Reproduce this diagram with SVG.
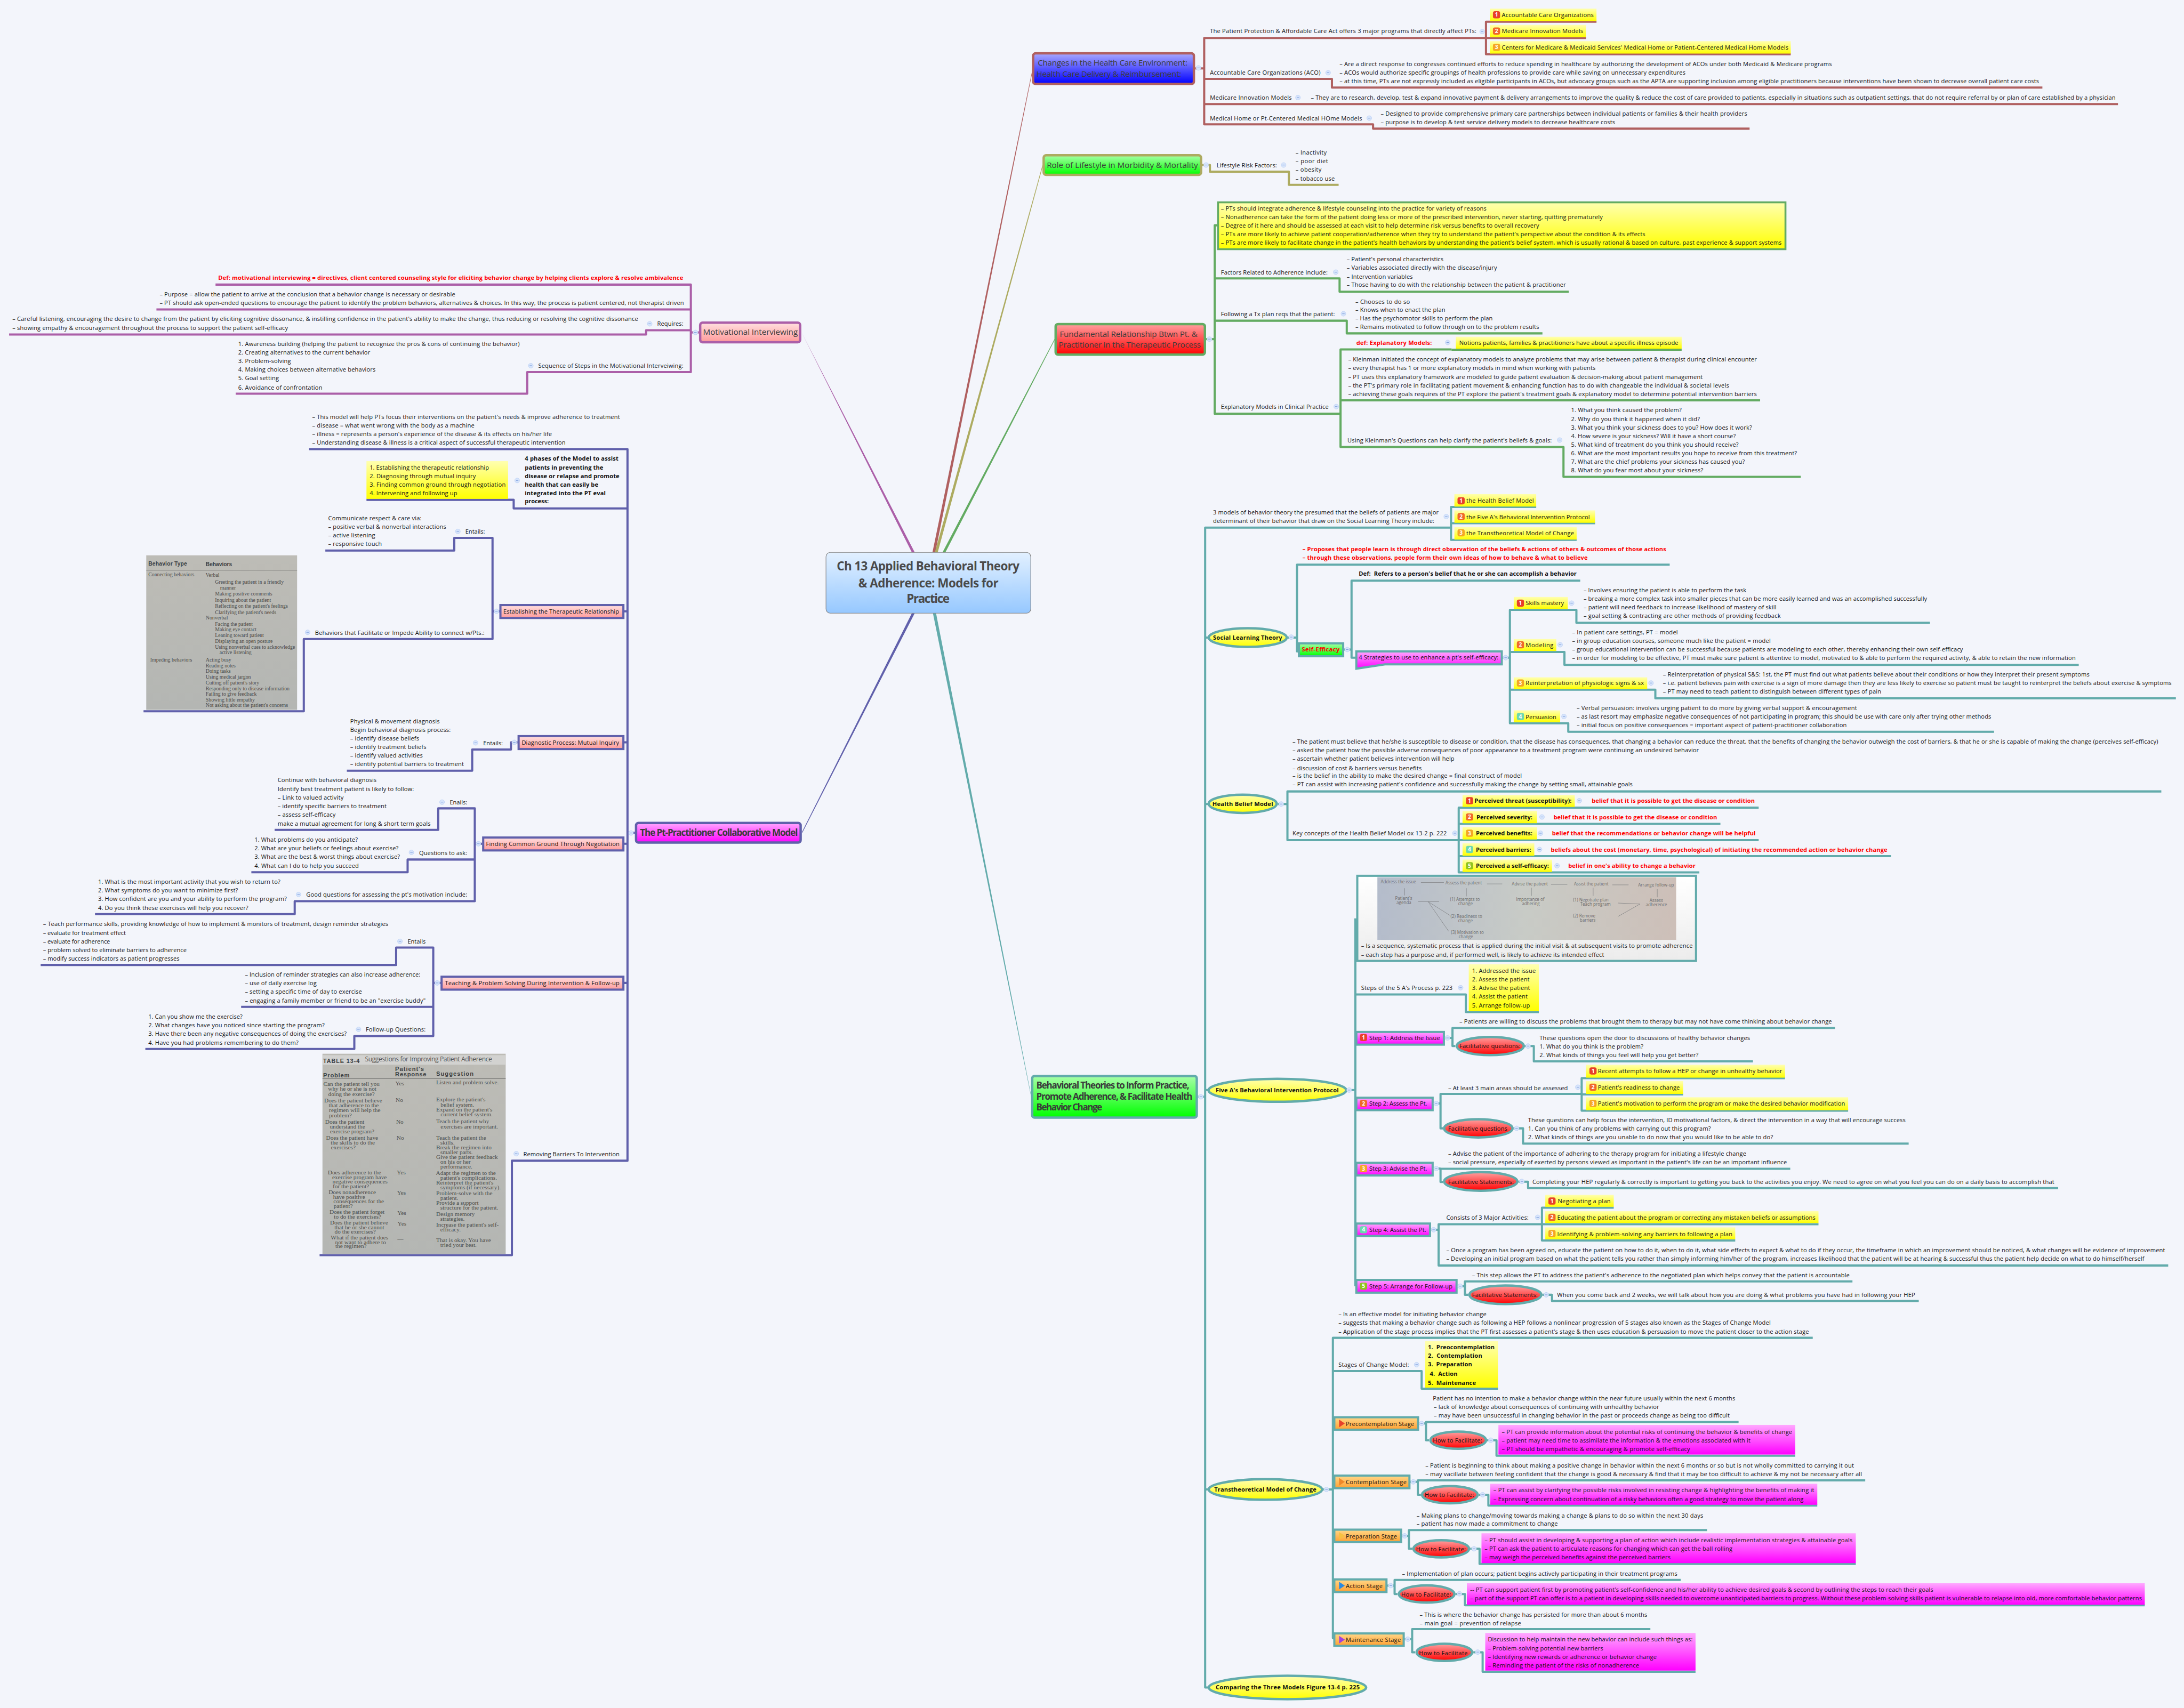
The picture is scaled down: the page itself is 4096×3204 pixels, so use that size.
<svg xmlns="http://www.w3.org/2000/svg" width="4096" height="3204" viewBox="0 0 4096 3204">
<style>
text{font-family:"Open Sans","Noto Sans","Liberation Sans",sans-serif;font-size:12.4px;fill:#111}
.b{font-weight:700}
.r{font-weight:700;fill:#f00}
.d{font-weight:700;fill:#fff;text-anchor:middle;font-size:11.5px}
.h{font-size:17px;fill:#3c3c3c}
.hb{font-size:19px;font-weight:700;fill:#3a3a3a}
.s{font-size:13.5px;fill:#3c2020}
.ser{font-family:"Liberation Serif",serif;font-size:11px;fill:#4a4a48}
.sr3{font-family:"Liberation Serif",serif;font-size:12.6px;fill:#4c4f4d}
.sb{font-family:"Liberation Sans",sans-serif;font-weight:700;fill:#3c3f42}
.f{font-size:9px;fill:#6b6b6b}
.c{fill:none;stroke-width:4.5;stroke-linejoin:round}
.c1{stroke:#b06060}.c2{stroke:#adab60}.c3{stroke:#63ab62}.c4{stroke:#62abab}.c5{stroke:#ab5fa8}.c6{stroke:#6060ab}
.y{fill:url(#gY)}.m{fill:url(#gM)}
.tb{stroke:#62abab;stroke-width:4.5}
.pb{stroke:#6060ab;stroke-width:4.5}
.ey{fill:url(#gY);stroke:#62abab;stroke-width:5}
.er{fill:url(#gR);stroke:#62abab;stroke-width:5}
#t circle{fill:#d6e4fb;stroke:#bcd0f5;stroke-width:1}
#t path{stroke:#7f9fdc;stroke-width:1.2}
</style>
<defs>
<linearGradient id="gY" x1="0" y1="0" x2="0" y2="1"><stop offset="0" stop-color="#ffffb0"/><stop offset="1" stop-color="#ff0"/></linearGradient>
<linearGradient id="gM" x1="0" y1="0" x2="0" y2="1"><stop offset="0" stop-color="#ffa8ff"/><stop offset="1" stop-color="#f0f"/></linearGradient>
<linearGradient id="gO" x1="0" y1="0" x2="0" y2="1"><stop offset="0" stop-color="#ffd88a"/><stop offset="1" stop-color="#ffa030"/></linearGradient>
<linearGradient id="gR" x1="0" y1="0" x2="0" y2="1"><stop offset="0" stop-color="#ffa0a0"/><stop offset="1" stop-color="#f00"/></linearGradient>
<linearGradient id="gG" x1="0" y1="0" x2="0" y2="1"><stop offset="0" stop-color="#a8ffa8"/><stop offset="1" stop-color="#0f0"/></linearGradient>
<linearGradient id="gB" x1="0" y1="0" x2="0" y2="1"><stop offset="0" stop-color="#a8a8ff"/><stop offset="1" stop-color="#00f"/></linearGradient>
<linearGradient id="gS" x1="0" y1="0" x2="0" y2="1"><stop offset="0" stop-color="#ffe0e0"/><stop offset="1" stop-color="#ff9a9a"/></linearGradient>
<linearGradient id="gC" x1="0" y1="0" x2="0" y2="1"><stop offset="0" stop-color="#e2f0ff"/><stop offset="1" stop-color="#96c8ff"/></linearGradient>
<linearGradient id="gW" x1="0" y1="0" x2="0" y2="1"><stop offset="0" stop-color="#fff"/><stop offset="1" stop-color="#ececec"/></linearGradient>
<linearGradient id="gI" x1="0" y1="0" x2="1" y2="0"><stop offset="0" stop-color="#b4bccb"/><stop offset=".5" stop-color="#c8cbc6"/><stop offset="1" stop-color="#cdbfb8"/></linearGradient>
<linearGradient id="gT" x1="0" y1="0" x2="0" y2="1"><stop offset="0" stop-color="#bdbcb6"/><stop offset="1" stop-color="#b4b6b3"/></linearGradient>
<g id="t"><circle r="5"/><path d="M-2.5 0H2.5"/></g>
<rect id="b1" x="-7.5" y="-7.5" width="15" height="15" rx="4" fill="#e8402a"/>
<rect id="b2" x="-7.5" y="-7.5" width="15" height="15" rx="4" fill="#f0682a"/>
<rect id="b3" x="-7.5" y="-7.5" width="15" height="15" rx="4" fill="#f5a623"/>
<rect id="b4" x="-7.5" y="-7.5" width="15" height="15" rx="4" fill="#6bd8b0"/>
<rect id="b5" x="-7.5" y="-7.5" width="15" height="15" rx="4" fill="#8fc31f"/>
</defs>
<rect width="4096" height="3204" fill="#f3f5fb"/>
<g transform="scale(.89726)">
<g id="connectors">
<polygon fill="#b06060" points="1949,1155 1955,1155 2158,150 2157,150"/>
<polygon fill="#adab60" points="1954,1155 1960,1155 2180,346 2179,345"/>
<polygon fill="#63ab62" points="1970,1155 1976,1155 2205,710 2204,709"/>
<polygon fill="#ab5fa8" points="1906,1155 1912,1155 1676,696 1675,694"/>
<polygon fill="#6060ab" points="1906,1282 1912,1282 1677,1741 1676,1740"/>
<polygon fill="#62abab" points="1950,1282 1956.5,1282 2156,2294 2155,2292"/>
<g class="c c1"><path d="M3106 79.5H2517V260H2870V269H3657"/><path d="M2517 165H2784V183H4269"/><path d="M2517 217.5H4427"/><path d="M3337 45.5H3106V113.5H3743"/><path d="M3106 79.5H3315"/><path d="M2498 143H2517"/></g>
<path class="c c2" d="M2513 345H2529V359H2694V386.5H2798"/>
<g class="c c3"><path d="M2544 471H2539V865H2802"/><path d="M2521 709H2539"/><path d="M2539 582H2800V610H3279"/><path d="M2539 670.5H2815V697H3224"/><path d="M3034 730.6H2802V934.6H3268V997H3764"/><path d="M2802 837H3679"/><path d="M3034 731H3515"/></g>
<g class="c c4">
<path d="M3031 1103H2519V3528H2526"/><path d="M2504 2293H2519"/><path d="M2519 1333H2526M2519 1681H2526M2519 2279H2526M2519 3114H2526"/>
<path d="M3211 1060H3033V1128.7H3295.5"/><path d="M3031 1094H3334"/>
<path d="M3490 1180.6H2711V1362H2716"/><path d="M2692 1333H2711"/><path d="M3303 1214H2825V1375H2835"/><path d="M2809 1358H2825"/>
<path d="M4034 1302H3295V1275H3156V1512H3278V1530H4168"/><path d="M3141 1375H3156"/><path d="M3156 1363H3270V1390H4345"/><path d="M3156 1442H3460V1460H4548"/>
<path d="M4517.6 1654.6H2691V1756.4H3049"/><path d="M2671 1681H2691"/><path d="M3676 1688.6H3049V1824H3552"/><path d="M3049 1722.5H3596"/><path d="M3049 1756.4H3676"/><path d="M3049 1790H3952.6"/>
<path d="M2833 1920V2689"/><path d="M2816 2279H2833"/><path d="M2833 2079H3064V2116H3216.5"/>
<path d="M3835.6 2149H3036V2187H3042"/><path d="M3020 2170H3036"/><path d="M3187 2187H3206V2219H3664"/>
<path d="M3306 2287H3011V2359H3016"/><path d="M2996.5 2307H3011"/><path d="M3731 2254H3306V2322H3863"/><path d="M3306 2288H3518"/><path d="M3164 2359H3183.5V2391H3989.5"/>
<path d="M3742 2443.5H3011V2471H3016"/><path d="M2996.5 2443H3011"/><path d="M3174 2470.5H3194V2484H4302"/>
<path d="M4532 2645.7H3007V2559.5H3223"/><path d="M2991 2571H3007"/><path d="M3373 2525H3223V2593.5H3627"/><path d="M3223 2559.5H3801"/>
<path d="M3872 2679H3062V2707H3069"/><path d="M3046.5 2689H3062"/><path d="M3224 2707H3244V2720H4010.6"/>
<path d="M3789 2797H2786V3425H2789"/><path d="M2766 3114H2786"/><path d="M2786 2866.5H2971.5V2903.4H3131"/>
<path d="M3634 2973H2980.7V3011H2987"/><path d="M2966 2976H2981"/><path d="M3108 3011H3128V3043.4H3752.5"/>
<path d="M3898.7 3095H2963.6V3125H2970"/><path d="M2948 3098H2964"/><path d="M3091 3125H3111V3147.6H3798.5"/>
<path d="M3568 3199H2945V3238H2952"/><path d="M2930.6 3211H2945"/><path d="M3073 3238H3092.6V3269.6H3879"/>
<path d="M3513 3303H2915V3332.6H2921"/><path d="M2900 3315H2915"/><path d="M3042.6 3332.6H3062V3356H4483"/>
<path d="M3449.6 3406H2951.7V3454.5H2958"/><path d="M2936 3427H2952"/><path d="M3079.5 3454.5H3099V3495H3544"/>
</g>
<g class="c c5"><path d="M450.5 595H1444V778H1102V823H492.6"/><path d="M327 647H1444"/><path d="M1461 695H1444"/><path d="M1444 690.5H1350.5V699.3H19"/></g>
<g class="c c6"><path d="M646 939H1311.6V2426.7H1070V2624H668"/><path d="M1327 1741H1311.6"/><path d="M1311.6 1063H1073.7V1045H766"/>
<path d="M1304.7 1278H1311.6M1304.7 1552H1311.6M1305 1764H1311.6M1305 2055H1311.6"/><path d="M1044 1278H1029"/><path d="M680 1151H949.5V1124.5H1029.5V1336H635V1487H300"/>
<path d="M1081.7 1552H1068V1567H987V1611.4H725"/><path d="M1007.8 1764H992.4"/><path d="M574 1735H916V1690H992.4V1884H616V1911H198.6"/><path d="M992.4 1797H852V1823.6H525.4"/>
<path d="M920.7 2055H905.6"/><path d="M85 2017.4H828V1981H905.6V2166H740.6V2193H303.8"/><path d="M905.6 2105H504"/></g>
</g>

<g id="central"><rect x="1726.5" y="1155" width="428" height="127" rx="9" fill="url(#gC)" stroke="#808080" stroke-width="1.2"/>
<text class="hb" style="font-size:25px;fill:#4a4a4a" x="1749" y="1193" textLength="382">Ch 13 Applied Behavioral Theory</text>
<text class="hb" style="font-size:25px;fill:#4a4a4a" x="1794" y="1228" textLength="293">&amp; Adherence: Models for</text>
<text class="hb" style="font-size:25px;fill:#4a4a4a" x="1895" y="1260" textLength="90">Practice</text></g>

<g id="changes"><rect x="2159.5" y="111.5" width="336" height="64" rx="5" fill="url(#gB)" stroke="#b06060" stroke-width="5"/>
<text class="h" x="2169" y="137" textLength="313">Changes in the Health Care Environment:</text>
<text class="h" x="2166" y="160" textLength="303">Health Care Delivery &amp; Reimbursement:</text><use href="#t" x="2505" y="142"/></g>
<g id="ppaca"><text x="2529" y="69" textLength="557">The Patient Protection &amp; Affordable Care Act offers 3 major programs that directly affect PTs:</text><use href="#t" x="3098" y="66"/></g>
<g id="y-aco"><rect class="y" x="3114" y="18" width="223" height="26"/><use href="#b1" x="3128" y="31"/><text class="d" x="3128" y="35">1</text><text x="3139" y="35.5" textLength="192">Accountable Care Organizations</text></g>
<g id="y-mim"><rect class="y" x="3114" y="52" width="201" height="26"/><use href="#b2" x="3128" y="65"/><text class="d" x="3128" y="69">2</text><text x="3139" y="69.5" textLength="170">Medicare Innovation Models</text></g>
<g id="y-cms"><rect class="y" x="3114" y="86" width="629" height="26"/><use href="#b3" x="3128" y="99"/><text class="d" x="3128" y="103">3</text><text x="3139" y="103.5" textLength="599">Centers for Medicare &amp; Medicaid Services' Medical Home or Patient-Centered Medical Home Models</text></g>
<g id="aco"><text x="2529" y="156" textLength="231">Accountable Care Organizations (ACO)</text><use href="#t" x="2776" y="152"/></g>
<g id="aco-txt"><text x="2800" y="138" textLength="1029">– Are a direct response to congresses continued efforts to reduce spending in healthcare by authorizing the development of ACOs under both Medicaid &amp; Medicare programs</text>
<text x="2800" y="156" textLength="723">– ACOs would authorize specific groupings of health professions to provide care while saving on unnecessary expenditures</text>
<text x="2800" y="174" textLength="1462">– at this time, PTs are not expressly included as eligible participants in ACOs, but advocacy groups such as the APTA are supporting inclusion among eligible practitioners because interventions have been shown to decrease overall patient care costs</text></g>
<g id="mim"><text x="2529" y="208" textLength="171">Medicare Innovation Models</text><use href="#t" x="2713" y="204"/>
<text x="2740" y="208" textLength="1682">– They are to research, develop, test &amp; expand innovative payment &amp; delivery arrangements to improve the quality &amp; reduce the cost of care provided to patients, especially in situations such as outpatient settings, that do not require referral by or plan of care established by a physician</text></g>
<g id="medhome"><text x="2529" y="252" textLength="318">Medical Home or Pt-Centered Medical HOme Models</text><use href="#t" x="2862" y="247"/>
<text x="2886" y="242" textLength="766">– Designed to provide comprehensive primary care partnerships between individual patients or families &amp; their health providers</text>
<text x="2886" y="260" textLength="490">– purpose is to develop &amp; test service delivery models to decrease healthcare costs</text></g>

<g id="role"><rect x="2181.5" y="324.5" width="329" height="41" rx="5" fill="url(#gG)" stroke="#adab60" stroke-width="5"/>
<text class="h" x="2188" y="351" textLength="316">Role of Lifestyle in Morbidity &amp; Mortality</text><use href="#t" x="2521" y="345"/>
<text x="2543" y="350" textLength="126">Lifestyle Risk Factors:</text><use href="#t" x="2683" y="345"/>
<text x="2708" y="323" textLength="65">– Inactivity</text><text x="2708" y="341" textLength="68">– poor diet</text><text x="2708" y="359" textLength="54">– obesity</text><text x="2708" y="378" textLength="82">– tobacco use</text></g>

<g id="fund"><rect x="2206.5" y="677.5" width="312" height="64" rx="5" fill="url(#gR)" stroke="#63ab62" stroke-width="5"/>
<text class="h" x="2215" y="704" textLength="288">Fundamental Relationship Btwn Pt. &amp;</text>
<text class="h" x="2213" y="727" textLength="297">Practitioner in the Therapeutic Process</text><use href="#t" x="2528" y="709"/></g>
<g id="adh"><rect x="2546" y="423" width="1186" height="98" fill="url(#gY)" stroke="#63ab62" stroke-width="4"/>
<text x="2552" y="440" textLength="555">– PTs should integrate adherence &amp; lifestyle counseling into the practice for variety of reasons</text>
<text x="2552" y="458" textLength="798">– Nonadherence can take the form of the patient doing less or more of the prescribed intervention, never starting, quitting prematurely</text>
<text x="2552" y="476" textLength="665">– Degree of it here and should be assessed at each visit to help determine risk versus benefits to overall recovery</text>
<text x="2552" y="494" textLength="887">– PTs are more likely to achieve patient cooperation/adherence when they try to understand the patient's perspective about the condition &amp; its effects</text>
<text x="2552" y="512" textLength="1172">– PTs are more likely to facilitate change in the patient's health behaviors by understanding the patient's belief system, which is usually rational &amp; based on culture, past experience &amp; support systems</text></g>
<g id="factors"><text x="2552" y="574" textLength="223">Factors Related to Adherence Include:</text><use href="#t" x="2792" y="569"/>
<text x="2815" y="546" textLength="202">– Patient's personal characteristics</text><text x="2815" y="564" textLength="314">– Variables associated directly with the disease/injury</text><text x="2815" y="583" textLength="138">– Intervention variables</text><text x="2815" y="600" textLength="458">– Those having to do with the relationship between the patient &amp; practitioner</text></g>
<g id="following"><text x="2552" y="661" textLength="238">Following a Tx plan reqs that the patient:</text><use href="#t" x="2808" y="656"/>
<text x="2833" y="635" textLength="114">– Chooses to do so</text><text x="2833" y="652" textLength="188">– Knows when to enact the plan</text><text x="2833" y="670" textLength="287">– Has the psychomotor skills to perform the plan</text><text x="2833" y="688" textLength="384">– Remains motivated to follow through on to the problem results</text></g>
<g id="expl"><text x="2552" y="855" textLength="225">Explanatory Models in Clinical Practice</text><use href="#t" x="2793" y="850"/></g>
<g id="expl-def"><text class="r" x="2835" y="721" textLength="158">def: Explanatory Models:</text><use href="#t" x="3026" y="716"/><rect class="y" x="3043" y="704" width="472" height="25"/>
<text x="3050" y="721" textLength="458">Notions patients, families &amp; practitioners have about a specific illness episode</text></g>
<g id="expl-txt"><text x="2818" y="756" textLength="854">– Kleinman initiated the concept of explanatory models to analyze problems that may arise between patient &amp; therapist during clinical encounter</text>
<text x="2818" y="774" textLength="517">– every therapist has 1 or more explanatory models in mind when working with patients</text>
<text x="2818" y="792" textLength="741">– PT uses this explanatory framework are modeled to guide patient evaluation &amp; decision-making about patient management</text>
<text x="2818" y="810" textLength="796">– the PT's primary role in facilitating patient movement &amp; enhancing function has to do with changeable the individual &amp; societal levels</text>
<text x="2818" y="828" textLength="854">– achieving these goals requires of the PT explore the patient's treatment goals &amp; explanatory model to determine potential intervention barriers</text></g>
<g id="klein"><text x="2816.5" y="925" textLength="427">Using Kleinman's Questions can help clarify the patient's beliefs &amp; goals:</text><use href="#t" x="3260" y="920"/>
<text x="3284" y="862" textLength="231">1. What you think caused the problem?</text>
<text x="3284" y="880" textLength="269">2. Why do you think it happened when it did?</text>
<text x="3284" y="898" textLength="378">3. What you think your sickness does to you? How does it work?</text>
<text x="3284" y="916" textLength="344">4. How severe is your sickness? Will it have a short course?</text>
<text x="3284" y="934" textLength="350">5. What kind of treatment do you think you should receive?</text>
<text x="3284" y="952" textLength="472">6. What are the most important results you hope to receive from this treatment?</text>
<text x="3284" y="970" textLength="363">7. What are the chief problems your sickness has caused you?</text>
<text x="3284" y="988" textLength="276">8. What do you fear most about your sickness?</text></g>

<g id="behav"><rect x="2157.5" y="2249.5" width="344" height="87" rx="5" fill="url(#gG)" stroke="#62abab" stroke-width="5"/>
<text class="hb" x="2166" y="2276" textLength="320">Behavioral Theories to Inform Practice,</text>
<text class="hb" x="2166" y="2299" textLength="326.5">Promote Adherence, &amp; Facilitate Health</text>
<text class="hb" x="2166" y="2321" textLength="138">Behavior Change</text><use href="#t" x="2510" y="2293"/></g>
<g id="three"><text x="2535.5" y="1075" textLength="471.5">3 models of behavior theory the presumed that the beliefs of patients are major</text>
<text x="2535.5" y="1093" textLength="462.5">determinant of their behavior that draw on the Social Learning Theory include:</text><use href="#t" x="3023" y="1080"/>
<rect class="y" x="3040" y="1033" width="171" height="26"/><use href="#b1" x="3054" y="1047"/><text class="d" x="3054" y="1051">1</text><text x="3065" y="1051.5" textLength="141">the Health Belief Model</text>
<rect class="y" x="3040" y="1067" width="294" height="26"/><use href="#b2" x="3054" y="1080"/><text class="d" x="3054" y="1084">2</text><text x="3065" y="1085" textLength="258">the Five A's Behavioral Intervention Protocol</text>
<rect class="y" x="3040" y="1102" width="255.5" height="26"/><use href="#b3" x="3054" y="1114"/><text class="d" x="3054" y="1118">3</text><text x="3065" y="1119" textLength="225">the Transtheoretical Model of Change</text></g>
<g id="slt"><ellipse class="ey" cx="2608" cy="1333" rx="81.5" ry="19.5"/><text class="b" x="2535.5" y="1337" textLength="144.5">Social Learning Theory</text><use href="#t" x="2699" y="1332"/></g>
<g id="slt-def"><text class="r" x="2722.6" y="1152" textLength="760">– Proposes that people learn is through direct observation of the beliefs &amp; actions of others &amp; outcomes of those actions</text>
<text class="r" x="2722.6" y="1170" textLength="596">– through these observations, people form their own ideas of how to behave &amp; what to believe</text></g>
<g id="selfeff"><rect x="2715" y="1345" width="92.5" height="27" fill="url(#gG)" stroke="#62abab" stroke-width="4.5"/><text class="r" x="2721" y="1362" textLength="79">Self-Efficacy</text><use href="#t" x="2816" y="1358"/></g>
<g id="se-def"><text class="b" x="2840" y="1204" textLength="455.5" xml:space="preserve">Def:  Refers to a person's belief that he or she can accomplish a behavior</text></g>
<g id="strategies"><path d="M2835 1362H3139V1389H2895L2835 1398Z" fill="url(#gM)" stroke="#62abab" stroke-width="4.5"/><text x="2840" y="1379" textLength="292">4 Strategies to use to enhance a pt's self-efficacy:</text><use href="#t" x="3147" y="1375"/></g>
<g id="skills"><rect class="y" x="3164" y="1248" width="113" height="25"/><use href="#b1" x="3178" y="1261"/><text class="d" x="3178" y="1265">1</text><text x="3189" y="1265.5" textLength="80">Skills mastery</text><use href="#t" x="3285" y="1261"/>
<text x="3310" y="1238" textLength="340">– Involves ensuring the patient is able to perform the task</text>
<text x="3310" y="1256" textLength="718">– breaking a more complex task into smaller pieces that can be more easily learned and was an accomplished successfully</text>
<text x="3310" y="1274" textLength="403">– patient will need feedback to increase likelihood of mastery of skill</text>
<text x="3310" y="1292" textLength="412">– goal setting &amp; contracting are other methods of providing feedback</text></g>
<g id="modeling"><rect class="y" x="3164" y="1336" width="89" height="25"/><use href="#b2" x="3178" y="1348"/><text class="d" x="3178" y="1352">2</text><text x="3189" y="1353" textLength="58">Modeling</text><use href="#t" x="3261" y="1348"/>
<text x="3286" y="1326" textLength="221">– In patient care settings, PT = model</text>
<text x="3286" y="1344" textLength="415">– in group education courses, someone much like the patient = model</text>
<text x="3286" y="1362" textLength="817">– group educational intervention can be successful because patients are modeling to each other, thereby enhancing their own self-efficacy</text>
<text x="3286" y="1380" textLength="1052.5">– in order for modeling to be effective, PT must make sure patient is attentive to model, motivated to &amp; able to perform the required activity, &amp; able to retain the new information</text></g>
<g id="reinterp"><rect class="y" x="3164" y="1416" width="279" height="25"/><use href="#b3" x="3178" y="1428"/><text class="d" x="3178" y="1432">3</text><text x="3189" y="1432.5" textLength="247">Reinterpretation of physiologic signs &amp; sx</text><use href="#t" x="3451" y="1428"/>
<text x="3476" y="1414" textLength="891.5">– Reinterpretation of physical S&amp;S:  1st, the PT must find out what patients believe about their conditions or how they interpret their present symptoms</text>
<text x="3476" y="1432" textLength="1063">– i.e. patient believes pain with exercise is a sign of more damage then they are less likely to exercise so patient must be taught to reinterpret the beliefs about exercise &amp; symptoms</text>
<text x="3476" y="1450" textLength="456">– PT may need to teach patient to distinguish between different types of pain</text></g>
<g id="persuasion"><rect class="y" x="3164" y="1485" width="97" height="25"/><use href="#b4" x="3178" y="1498"/><text class="d" x="3178" y="1502">4</text><text x="3189" y="1503" textLength="64">Persuasion</text><use href="#t" x="3269" y="1498"/>
<text x="3295.5" y="1484" textLength="586">– Verbal persuasion: involves urging patient to do more by giving verbal support &amp; encouragement</text>
<text x="3295.5" y="1502" textLength="866.5">– as last resort may emphasize negative consequences of not participating in program; this should be use with care only after trying other methods</text>
<text x="3295.5" y="1520" textLength="564.5">– initial focus on positive consequences = important aspect of patient-practitioner collaboration</text></g>

<g id="hbm"><ellipse class="ey" cx="2597.5" cy="1680.5" rx="71" ry="19"/><text class="b" x="2534" y="1685" textLength="127">Health Belief Model</text><use href="#t" x="2678" y="1681"/></g>
<g id="hbm-txt"><text x="2701.5" y="1554.5" textLength="1809.5">– The patient must believe that he/she is susceptible to disease or condition, that the disease has consequences, that changing a behavior can reduce the threat, that the benefits of changing the behavior outweigh the cost of barriers, &amp; that he or she is capable of making the change (perceives self-efficacy)</text>
<text x="2701.5" y="1572.5" textLength="849.5">– asked the patient how the possible adverse consequences of poor appearance to a treatment program were continuing an undesired behavior</text>
<text x="2701.5" y="1590" textLength="338.5">– ascertain whether patient believes intervention will help</text>
<text x="2701.5" y="1610" textLength="270">– discussion of cost &amp; barriers versus benefits</text>
<text x="2701.5" y="1626" textLength="479.5">– is the belief in the ability to make the desired change = final construct of model</text>
<text x="2701.5" y="1644" textLength="711">– PT can assist with increasing patient's confidence and successfully making the change by setting small, attainable goals</text></g>
<g id="key"><text x="2701.5" y="1747" textLength="322.5">Key concepts of the Health Belief Model ox 13-2 p. 222</text><use href="#t" x="3041" y="1742"/></g>
<g id="pc1"><rect class="y" x="3057" y="1662" width="234.5" height="25"/><use href="#b1" x="3071.6" y="1674"/><text class="d" x="3071.6" y="1678">1</text><text class="b" x="3082" y="1678.5" textLength="203">Perceived threat (susceptibility):</text><use href="#t" x="3301" y="1674"/><text class="r" x="3327" y="1678.5" textLength="341">belief that it is possible to get the disease or condition</text></g>
<g id="pc2"><rect class="y" x="3057" y="1695" width="155.5" height="26"/><use href="#b2" x="3071.6" y="1708"/><text class="d" x="3071.6" y="1712">2</text><text class="b" x="3086" y="1712.5" textLength="117">Perceived severity:</text><use href="#t" x="3223" y="1708"/><text class="r" x="3247" y="1712.5" textLength="342">belief that it is possible to get the disease or condition</text></g>
<g id="pc3"><rect class="y" x="3057" y="1729" width="155.5" height="26"/><use href="#b3" x="3071.6" y="1742"/><text class="d" x="3071.6" y="1746">3</text><text class="b" x="3085" y="1747" textLength="118">Perceived benefits:</text><use href="#t" x="3220" y="1742"/><text class="r" x="3244" y="1746.5" textLength="425.5">belief that the recommendations or behavior change will be helpful</text></g>
<g id="pc4"><rect class="y" x="3057" y="1763" width="150" height="26"/><use href="#b4" x="3071.6" y="1776"/><text class="d" x="3071.6" y="1780">4</text><text class="b" x="3085" y="1781" textLength="115.6">Perceived barriers:</text><use href="#t" x="3218" y="1776"/><text class="r" x="3241.5" y="1780.5" textLength="703.5">beliefs about the cost (monetary, time, psychological) of initiating the recommended action or behavior change</text></g>
<g id="pc5"><rect class="y" x="3057" y="1797" width="187" height="26"/><use href="#b5" x="3071.6" y="1810"/><text class="d" x="3071.6" y="1814">5</text><text class="b" x="3085" y="1814.5" textLength="152.5">Perceived a self-efficacy:</text><use href="#t" x="3254.6" y="1810"/><text class="r" x="3278" y="1814.5" textLength="266">belief in one's ability to change a behavior</text></g>

<g id="fivea"><ellipse class="ey" cx="2670" cy="2279.5" rx="144" ry="24"/><text class="b" x="2541" y="2284" textLength="257">Five A's Behavioral Intervention Protocol</text><use href="#t" x="2820" y="2279"/></g>
<g id="fivea-img"><rect x="2837" y="1831" width="708" height="178" fill="url(#gW)" stroke="#62abab" stroke-width="4.5"/>
<rect x="2879" y="1834" width="624.5" height="131" fill="url(#gI)"/>
<g fill="none" stroke="#77797b" stroke-width=".8"><path d="M2970 1845H3018M3108 1848H3140M3242 1849H3276M3370 1850H3404M2936 1857V1872M3065 1857V1874M3201 1856V1873M3330 1856V1873M3464 1859V1876M2964 1885H3008M2985 1885L3031 1914M2985 1885L3028 1947M3428 1890L3382 1888M3428 1890L3382 1916"/></g>
<text class="f" x="2886" y="1847">Address the issue</text><text class="f" x="3021.5" y="1849">Assess the patient</text><text class="f" x="3160" y="1851">Advise the patient</text><text class="f" x="3290" y="1851">Assist the patient</text><text class="f" x="3424" y="1853">Arrange follow-up</text>
<text class="f" x="2916" y="1881">Patient's</text><text class="f" x="2919" y="1890">agenda</text><text class="f" x="3031" y="1883">(1) Attempts to</text><text class="f" x="3048" y="1892">change</text><text class="f" x="3169" y="1884">Importance of</text><text class="f" x="3181" y="1893">adhering</text><text class="f" x="3288" y="1885">(1) Negotiate plan</text><text class="f" x="3303" y="1894">Teach program</text><text class="f" x="3448" y="1886">Assess</text><text class="f" x="3440" y="1895">adherence</text>
<text class="f" x="3032" y="1919">(2) Readiness to</text><text class="f" x="3048" y="1928">change</text><text class="f" x="3288" y="1918">(2) Remove</text><text class="f" x="3302" y="1927">barriers</text><text class="f" x="3033" y="1953">(3) Motivation to</text><text class="f" x="3049" y="1962">change</text>
<text x="2845" y="1982" textLength="693">– Is a sequence, systematic process that is applied during the initial visit &amp; at subsequent visits to promote adherence</text>
<text x="2845" y="2000" textLength="508">– each step has a purpose and, if performed well, is likely to achieve its intended effect</text></g>
<g id="steps"><text x="2845" y="2070" textLength="191">Steps of the 5 A's Process p. 223</text><use href="#t" x="3053" y="2065"/><rect class="y" x="3070" y="2016" width="146.5" height="98"/>
<text x="3077" y="2034" textLength="133">1. Addressed the issue</text><text x="3077" y="2052" textLength="120">2. Assess the patient</text><text x="3077" y="2070" textLength="121">3. Advise the patient</text><text x="3077" y="2088" textLength="116">4. Assist the patient</text><text x="3077" y="2106" textLength="121">5. Arrange follow-up</text></g>
<g id="step1"><rect class="m tb" x="2835" y="2157.5" width="183" height="26.5"/><use href="#b1" x="2850" y="2169"/><text class="d" x="2850" y="2173">1</text><text x="2862" y="2174.5" textLength="148">Step 1: Address the Issue</text><use href="#t" x="3025.5" y="2170"/>
<text x="3050.5" y="2140" textLength="778.5">– Patients are willing to discuss the problems that brought them to therapy but may not have come thinking about behavior change</text></g>
<g id="fq1"><ellipse class="er" cx="3115" cy="2187" rx="70" ry="19"/><text x="3050.5" y="2191.5" textLength="127.5">Facilitative questions:</text><use href="#t" x="3194" y="2187"/>
<text x="3218" y="2174" textLength="440">These questions open the door to discussions of healthy behavior changes</text><text x="3218" y="2192" textLength="217">1. What do you think is the problem?</text><text x="3218" y="2210" textLength="332">2. What kinds of things you feel will help you get better?</text></g>
<g id="step2"><rect class="m tb" x="2835" y="2295" width="159.5" height="26"/><use href="#b2" x="2850" y="2307"/><text class="d" x="2850" y="2311">2</text><text x="2862" y="2312" textLength="121">Step 2: Assess the Pt.</text><use href="#t" x="3002" y="2307"/>
<text x="3027" y="2279" textLength="250">– At least 3 main areas should be assessed</text><use href="#t" x="3298" y="2273"/></g>
<g id="s2y1"><rect class="y" x="3315" y="2226" width="416" height="27"/><use href="#b1" x="3329.7" y="2239"/><text class="d" x="3329.7" y="2243">1</text><text x="3340" y="2244" textLength="385">Recent attempts to follow a HEP or change in unhealthy behavior</text></g>
<g id="s2y2"><rect class="y" x="3315" y="2260" width="203" height="27"/><use href="#b2" x="3329.7" y="2273"/><text class="d" x="3329.7" y="2277">2</text><text x="3340" y="2278" textLength="171">Patient's readiness to change</text></g>
<g id="s2y3"><rect class="y" x="3315" y="2294" width="548" height="27"/><use href="#b3" x="3329.7" y="2307"/><text class="d" x="3329.7" y="2311">3</text><text x="3340" y="2312" textLength="516.5">Patient's motivation to perform the program or make the desired behavior modification</text></g>
<g id="fq2"><ellipse class="er" cx="3090" cy="2359" rx="71.5" ry="19"/><text x="3027" y="2363.5" textLength="123.6">Facilitative questions</text><use href="#t" x="3170" y="2359"/>
<text x="3194" y="2346" textLength="789">These questions can help focus the intervention, ID motivational factors, &amp; direct the intervention in a way that will encourage success</text><text x="3194" y="2364" textLength="382">1. Can you think of any problems with carrying out this program?</text><text x="3194" y="2382" textLength="512">2. What kinds of things are you unable to do now that you would like to be able to do?</text></g>
<g id="step3"><rect class="m tb" x="2835" y="2431" width="159.5" height="26.5"/><use href="#b3" x="2850" y="2443"/><text class="d" x="2850" y="2447">3</text><text x="2862" y="2448" textLength="121">Step 3: Advise the Pt.</text><use href="#t" x="3002" y="2443"/>
<text x="3027" y="2416" textLength="623">– Advise the patient of the importance of adhering to the therapy program for initiating a lifestyle change</text><text x="3027" y="2434" textLength="708">– social pressure, especially of exerted by persons viewed as important in the patient's life can be an important influence</text></g>
<g id="fs3"><ellipse class="er" cx="3095" cy="2470" rx="76.5" ry="19.5"/><text x="3027" y="2475" textLength="137">Facilitative Statements:</text><use href="#t" x="3181" y="2470"/>
<text x="3203" y="2475" textLength="1091">Completing your HEP regularly &amp; correctly is important to getting you back to the activities you enjoy. We need to agree on what you feel you can do on a daily basis to accomplish that</text></g>
<g id="step4"><rect class="m tb" x="2835" y="2558" width="154" height="26"/><use href="#b4" x="2850" y="2571"/><text class="d" x="2850" y="2575">4</text><text x="2862" y="2576" textLength="119">Step 4: Assist the Pt.</text><use href="#t" x="2996.5" y="2571"/>
<text x="3023" y="2550" textLength="172">Consists of 3 Major Activities:</text><use href="#t" x="3214" y="2545"/>
<text x="3023" y="2618" textLength="1502.5">– Once a program has been agreed on, educate the patient on how to do it, when to do it, what side effects to expect &amp; what to do if they occur, the timeframe in which an improvement should be noticed, &amp; what changes will be evidence of improvement</text>
<text x="3023" y="2636" textLength="1459">– Developing an initial program based on what the patient tells you rather than simply informing him/her of the program, increases likelihood that the patient will be at hearing &amp; successful thus the patient help decide on what to do himself/herself</text></g>
<g id="s4y1"><rect class="y" x="3230" y="2498" width="143" height="25"/><use href="#b1" x="3244" y="2511"/><text class="d" x="3244" y="2515">1</text><text x="3256" y="2516" textLength="110.6">Negotiating a plan</text></g>
<g id="s4y2"><rect class="y" x="3230" y="2532" width="571" height="25"/><use href="#b2" x="3244" y="2545"/><text class="d" x="3244" y="2549">2</text><text x="3255" y="2550" textLength="539.6">Educating the patient about the program or correcting any mistaken beliefs or assumptions</text></g>
<g id="s4y3"><rect class="y" x="3230" y="2566" width="397" height="25"/><use href="#b3" x="3244" y="2579"/><text class="d" x="3244" y="2583">3</text><text x="3255" y="2584" textLength="366">Identifying &amp; problem-solving any barriers to following a plan</text></g>
<g id="step5"><rect class="m tb" x="2835" y="2676" width="209.5" height="26.5"/><use href="#b5" x="2850" y="2689"/><text class="d" x="2850" y="2693">5</text><text x="2862" y="2694" textLength="174">Step 5: Arrange for Follow-up</text><use href="#t" x="3052" y="2689"/>
<text x="3077" y="2670" textLength="789">– This step allows the PT to address the patient's adherence to the negotiated plan which helps convey that the patient is accountable</text></g>
<g id="fs5"><ellipse class="er" cx="3146.5" cy="2707" rx="75" ry="19.5"/><text x="3077" y="2712" textLength="137">Facilitative Statements:</text><use href="#t" x="3232" y="2707"/>
<text x="3254.6" y="2712" textLength="748.4">When you come back and 2 weeks, we will talk about how you are doing &amp; what problems you have had in following your HEP</text></g>

<g id="ttm"><ellipse class="ey" cx="2645" cy="3114" rx="118.5" ry="21.5"/><text class="b" x="2538" y="3118.5" textLength="213.5">Transtheoretical Model of Change</text><use href="#t" x="2772.6" y="3114"/></g>
<g id="ttm-txt"><text x="2797.6" y="2752" textLength="309.4">– Is an effective model for initiating behavior change</text>
<text x="2797.6" y="2770" textLength="903.4">– suggests that making a behavior change such as following a HEP follows a nonlinear progression of 5 stages also known as the Stages of Change Model</text>
<text x="2797.6" y="2788" textLength="983.4">– Application of the stage process implies that the PT first assesses a patient's stage &amp; then uses education &amp; persuasion to move the patient closer to the action stage</text></g>
<g id="stagesm"><text x="2797.6" y="2858" textLength="147.4">Stages of Change Model:</text><use href="#t" x="2961" y="2853"/><rect class="y" x="2979" y="2804" width="152" height="97"/>
<text class="b" x="2984.7" y="2821" textLength="139.3" xml:space="preserve">1.  Preocontemplation</text><text class="b" x="2984.7" y="2839" textLength="113.3" xml:space="preserve">2.  Contemplation</text><text class="b" x="2984.7" y="2857" textLength="92.3" xml:space="preserve">3.  Preparation</text><text class="b" x="2988.6" y="2877" textLength="58" xml:space="preserve">4.  Action</text><text class="b" x="2984.7" y="2895" textLength="100.3" xml:space="preserve">5.  Maintenance</text></g>
<g id="pre"><rect x="2789" y="2963" width="175" height="26" fill="url(#gO)" class="tb"/><polygon fill="#e8402a" points="2799,2968 2811,2976 2799,2984"/><text x="2813" y="2981" textLength="143">Precontemplation Stage</text><use href="#t" x="2971.5" y="2976"/>
<text x="2995" y="2928" textLength="632">Patient has no intention to make a behavior change within the near future usually within the next 6 months</text><text x="2997" y="2946" textLength="471">– lack of knowledge about consequences of continuing with unhealthy behavior</text><text x="2997" y="2964" textLength="618.5">– may have been unsuccessful in changing behavior in the past or proceeds change as being too difficult</text></g>
<g id="pre-f"><ellipse class="er" cx="3048" cy="3011" rx="58" ry="18"/><text x="2995" y="3016" textLength="103">How to Facilitate:</text><use href="#t" x="3116" y="3011"/><rect class="m" x="3132" y="2979" width="620.5" height="62"/>
<text x="3139" y="2998" textLength="607">– PT can provide information about the potential risks of continuing the behavior &amp; benefits of change</text><text x="3139" y="3016" textLength="520">– patient may need time to assimilate the information &amp; the emotions associated with it</text><text x="3139" y="3034" textLength="393.5">– PT should be empathetic &amp; encouraging &amp; promote self-efficacy</text></g>
<g id="con"><rect x="2789" y="3085" width="157" height="26.4" fill="url(#gO)" class="tb"/><polygon fill="#f0882a" points="2799,3090 2811,3098 2799,3106"/><text x="2813" y="3103" textLength="127">Contemplation Stage</text><use href="#t" x="2954" y="3098"/>
<text x="2979.4" y="3068" textLength="895.6">– Patient is beginning to think about making a positive change in behavior within the next 6 months or so but is not wholly committed to carrying it out</text><text x="2979.4" y="3086" textLength="912.6">– may vacillate between feeling confident that the change is good &amp; necessary &amp; find that it may be too difficult to achieve &amp; my not be necessary after all</text></g>
<g id="con-f"><ellipse class="er" cx="3030.5" cy="3125" rx="58" ry="18"/><text x="2978" y="3130" textLength="103">How to Facilitate:</text><use href="#t" x="3099" y="3125"/><rect class="m" x="3115" y="3102" width="683.5" height="44"/>
<text x="3121.6" y="3120" textLength="670.4">– PT can assist by clarifying the possible risks involved in resisting change &amp; highlighting the benefits of making it</text><text x="3121.6" y="3138" textLength="648">– Expressing concern about continuation of a risky behaviors often a good strategy to move the patient along</text></g>
<g id="prep"><rect x="2789" y="3198" width="139.6" height="26" fill="url(#gO)" class="tb"/><polygon fill="#f8c040" points="2799,3203 2811,3211 2799,3219"/><text x="2813" y="3216" textLength="107">Preparation Stage</text><use href="#t" x="2936" y="3211"/>
<text x="2961" y="3172.5" textLength="599">– Making plans to change/moving towards making a change &amp; plans to do so within the next 30 days</text><text x="2961" y="3190" textLength="295">– patient has now made a commitment to change</text></g>
<g id="prep-f"><ellipse class="er" cx="3012.5" cy="3238" rx="58" ry="18"/><text x="2960" y="3243" textLength="103.7">How to Facilitate:</text><use href="#t" x="3081" y="3238"/><rect class="m" x="3096.6" y="3205.6" width="782.4" height="62.4"/>
<text x="3103" y="3224" textLength="769">– PT should assist in developing &amp; supporting a plan of action which include realistic implementation strategies &amp; attainable goals</text><text x="3103" y="3242" textLength="518">– PT can ask the patient to articulate reasons for changing which can get the ball rolling</text><text x="3103" y="3260" textLength="388.7">– may weigh the perceived benefits against the perceived barriers</text></g>
<g id="act"><rect x="2789" y="3302" width="109" height="26.4" fill="url(#gO)" class="tb"/><polygon fill="#2a8ae0" points="2799,3307 2811,3315 2799,3323"/><text x="2813" y="3320" textLength="77">Action Stage</text><use href="#t" x="2907" y="3315"/>
<text x="2930.6" y="3294" textLength="575.4">– Implementation of plan occurs; patient begins actively participating in their treatment programs</text></g>
<g id="act-f"><ellipse class="er" cx="2982" cy="3332.6" rx="58" ry="18"/><text x="2929" y="3338" textLength="104">How to Facilitate:</text><use href="#t" x="3050.5" y="3332"/><rect class="m" x="3066" y="3310" width="1417" height="45"/>
<text x="3073" y="3328" textLength="968">-- PT can support patient first by promoting patient's self-confidence and his/her ability to achieve desired goals &amp; second by outlining the steps to reach their goals</text><text x="3073" y="3346" textLength="1404">– part of the support PT can offer is to a patient in developing skills needed to overcome unanticipated barriers to progress. Without these problem-solving skills patient is vulnerable to relapse into old, more comfortable behavior patterns</text></g>
<g id="main"><rect x="2789" y="3415" width="145" height="26" fill="url(#gO)" class="tb"/><polygon fill="#a040e0" points="2799,3420 2811,3428 2799,3436"/><text x="2813" y="3433" textLength="115">Maintenance Stage</text><use href="#t" x="2942.5" y="3427"/>
<text x="2967.5" y="3380" textLength="475.5">– This is where the behavior change has persisted for more than about 6 months</text><text x="2967.5" y="3398" textLength="212">– main goal = prevention of relapse</text></g>
<g id="main-f"><ellipse class="er" cx="3019" cy="3454.5" rx="58" ry="18"/><text x="2966" y="3460" textLength="101.6">How to Facilitate</text><use href="#t" x="3088.7" y="3454"/><rect class="m" x="3104.5" y="3414" width="439.5" height="78.6"/>
<text x="3110" y="3432" textLength="427.8">Discussion to help maintain the new behavior can include such things as:</text><text x="3110" y="3450" textLength="241">– Problem-solving potential new barriers</text><text x="3110" y="3468" textLength="352.7">– Identifying new rewards or adherence or behavior change</text><text x="3110" y="3486" textLength="316">– Reminding the patient of the risks of nonadherence</text></g>
<g id="compare"><ellipse class="ey" cx="2691" cy="3528" rx="164.5" ry="24.5"/><text class="b" x="2541" y="3532" textLength="301">Comparing the Three Models Figure 13-4 p. 225</text></g>

<g id="motiv"><rect x="1463.5" y="674.5" width="209" height="41" rx="5" fill="url(#gS)" stroke="#ab5fa8" stroke-width="5"/><text class="h" x="1469.5" y="700" textLength="198">Motivational Interviewing</text><use href="#t" x="1453.6" y="695"/></g>
<g id="mi-def"><text class="r" x="456" y="585.5" textLength="972">Def: motivational interviewing = directives, client centered counseling style for eliciting behavior change by helping clients explore &amp; resolve ambivalence</text></g>
<g id="mi-purpose"><text x="333.7" y="619.5" textLength="617.9">– Purpose = allow the patient to arrive at the conclusion that a behavior change is necessary or desirable</text>
<text x="333.7" y="637.5" textLength="1095.8">– PT should ask open-ended questions to encourage the patient to identify the problem behaviors, alternatives &amp; choices. In this way, the process is patient centered, not therapist driven</text></g>
<g id="mi-req"><text x="1373.7" y="681" textLength="54.7">Requires:</text><use href="#t" x="1358" y="677"/>
<text x="26" y="671.5" textLength="1307.7">– Careful listening, encouraging the desire to change from the patient by eliciting cognitive dissonance, &amp; instilling confidence in the patient's ability to make the change, thus reducing or resolving the cognitive dissonance</text>
<text x="26" y="689.5" textLength="576">– showing empathy &amp; encouragement throughout the process to support the patient self-efficacy</text></g>
<g id="mi-seq"><text x="1125" y="769" textLength="303.4">Sequence of Steps in the Motivational Interveiwing:</text><use href="#t" x="1109.5" y="764.5"/>
<text x="498" y="723" textLength="588">1. Awareness building (helping the patient to recognize the pros &amp; cons of continuing the behavior)</text><text x="498" y="741" textLength="275.7">2. Creating alternatives to the current behavior</text><text x="498" y="759" textLength="110">3. Problem-solving</text><text x="498" y="777" textLength="287">4. Making choices between alternative behaviors</text><text x="498" y="795" textLength="85">5. Goal setting</text><text x="498" y="814.5" textLength="175.7">6. Avoidance of confrontation</text></g>

<g id="pt"><rect x="1329.5" y="1720.5" width="344" height="41" rx="5" fill="url(#gM)" stroke="#6060ab" stroke-width="5"/><text class="hb" x="1337.7" y="1747.5" textLength="330">The Pt-Practitioner Collaborative Model</text><use href="#t" x="1319" y="1741.5"/></g>
<g id="pt-txt"><text x="652.6" y="875.5" textLength="643.2">– This model will help PTs focus their interventions on the patient's needs &amp; improve adherence to treatment</text><text x="652.6" y="893.5" textLength="339">– disease = what went wrong with the body as a machine</text><text x="652.6" y="911.5" textLength="501">– illness = represents a person's experience of the disease &amp; its effects on his/her life</text><text x="652.6" y="929.5" textLength="529.4">– Understanding disease &amp; illness is a critical aspect of successful therapeutic intervention</text></g>
<g id="phases"><text class="b" x="1097" y="963.5" textLength="195.6">4 phases of the Model to assist</text><text class="b" x="1097" y="981.5" textLength="164">patients in preventing the</text><text class="b" x="1097" y="999.5" textLength="197.7">disease or relapse and promote</text><text class="b" x="1097" y="1017.5" textLength="153.5">health that can easily be</text><text class="b" x="1097" y="1035.5" textLength="169">integrated into the PT eval</text><text class="b" x="1097" y="1052.5" textLength="50">process:</text><use href="#t" x="1081" y="1004.5"/>
<rect class="y" x="766" y="964" width="296" height="79"/><text x="772.6" y="981.5" textLength="249.4">1. Establishing the therapeutic relationship</text><text x="772.6" y="999.5" textLength="222">2. Diagnosing through mutual inquiry</text><text x="772.6" y="1017.5" textLength="284.2">3. Finding common ground through negotiation</text><text x="772.6" y="1035.5" textLength="183.2">4. Intervening and following up</text></g>
<g id="estab"><rect x="1046" y="1265" width="257" height="27" fill="url(#gS)" class="pb"/><text x="1052" y="1283" textLength="242">Establishing the Therapeutic Relationship</text><use href="#t" x="1037.7" y="1278"/></g>
<g id="estab-e"><text x="972.6" y="1116" textLength="41.1">Entails:</text><use href="#t" x="957" y="1111"/><text x="686" y="1087.5" textLength="195">Communicate respect &amp; care via:</text><text x="686" y="1105.5" textLength="246.6">– positive verbal &amp; nonverbal interactions</text><text x="686" y="1123.5" textLength="98">– active listening</text><text x="686" y="1141.5" textLength="112">– responsive touch</text></g>
<g id="estab-b"><text x="658.5" y="1327" textLength="354.2">Behaviors that Facilitate or Impede Ability to connect w/Pts.:</text><use href="#t" x="643" y="1322"/>
<rect x="305.7" y="1161" width="315.3" height="323" fill="url(#gT)"/><path d="M305.7 1192H621" stroke="#666" stroke-width="1"/>
<text class="sb" style="font-size:11.5px" x="310" y="1183" textLength="81">Behavior Type</text><text class="sb" style="font-size:11.5px" x="430" y="1184" textLength="55">Behaviors</text>
<text class="ser" x="310" y="1205">Connecting behaviors</text><text class="ser" x="430" y="1206">Verbal</text><text class="ser" x="449.5" y="1220">Greeting the patient in a friendly</text><text class="ser" x="460" y="1233">manner</text><text class="ser" x="449.5" y="1245">Making positive comments</text><text class="ser" x="449.5" y="1258">Inquiring about the patient</text><text class="ser" x="449.5" y="1271">Reflecting on the patient's feelings</text><text class="ser" x="449.5" y="1283.5">Clarifying the patient's needs</text><text class="ser" x="430" y="1295">Nonverbal</text><text class="ser" x="449.5" y="1308">Facing the patient</text><text class="ser" x="449.5" y="1320">Making eye contact</text><text class="ser" x="449.5" y="1332">Leaning toward patient</text><text class="ser" x="449.5" y="1344">Displaying an open posture</text><text class="ser" x="449.5" y="1356">Using nonverbal cues to acknowledge</text><text class="ser" x="459" y="1368">active listening</text>
<text class="ser" x="314" y="1383">Impeding behaviors</text><text class="ser" x="430" y="1383">Acting busy</text><text class="ser" x="430" y="1395">Reading notes</text><text class="ser" x="430" y="1407">Doing tasks</text><text class="ser" x="430" y="1419">Using medical jargon</text><text class="ser" x="430" y="1431">Cutting off patient's story</text><text class="ser" x="430" y="1443">Responding only to disease information</text><text class="ser" x="430" y="1454">Failing to give feedback</text><text class="ser" x="430" y="1466.5">Showing little empathy</text><text class="ser" x="430" y="1478">Not asking about the patient's concerns</text></g>
<g id="diag"><rect x="1084" y="1539" width="219" height="27" fill="url(#gS)" class="pb"/><text x="1090.5" y="1557" textLength="203.5">Diagnostic Process: Mutual Inquiry</text><use href="#t" x="1075" y="1552"/></g>
<g id="diag-e"><text x="1010" y="1558" textLength="41">Entails:</text><use href="#t" x="994" y="1553"/><text x="732" y="1512" textLength="187">Physical &amp; movement diagnosis</text><text x="732" y="1530" textLength="210">Begin behavioral diagnosis process:</text><text x="732" y="1548" textLength="144">– identify disease beliefs</text><text x="732" y="1566" textLength="159">– identify treatment beliefs</text><text x="732" y="1584" textLength="151.7">– identify valued activities</text><text x="732" y="1602" textLength="237.5">– identify potential barriers to treatment</text></g>
<g id="find"><rect x="1010" y="1751" width="293" height="27" fill="url(#gS)" class="pb"/><text x="1016" y="1769" textLength="279">Finding Common Ground Through Negotiation</text><use href="#t" x="1000" y="1764"/></g>
<g id="find-e"><text x="940" y="1682" textLength="36.5">Enails:</text><use href="#t" x="924" y="1677"/><text x="580.4" y="1635" textLength="206.6">Continue with behavioral diagnosis</text><text x="580.4" y="1653.5" textLength="284.6">Identify best treatment patient is likely to follow:</text><text x="580.4" y="1671.5" textLength="137.6">– Link to valued activity</text><text x="580.4" y="1689.5" textLength="227.6">– identify specific barriers to treatment</text><text x="580.4" y="1707.5" textLength="121">– assess self-efficacy</text><text x="580.4" y="1726" textLength="319.6">make a mutual agreement for long &amp; short term goals</text></g>
<g id="find-q"><text x="876" y="1787.5" textLength="100.5">Questions to ask:</text><use href="#t" x="860" y="1782"/><text x="531.8" y="1760" textLength="216">1. What problems do you anticipate?</text><text x="531.8" y="1778" textLength="301.2">2. What are your beliefs or feelings about exercise?</text><text x="531.8" y="1796" textLength="304.2">3. What are the best &amp; worst things about exercise?</text><text x="531.8" y="1814" textLength="218.2">4. What can I do to help you succeed</text></g>
<g id="find-g"><text x="640" y="1875" textLength="336.5">Good questions for assessing the pt's motivation include:</text><use href="#t" x="624" y="1870"/><text x="205" y="1848" textLength="381">1. What is the most important activity that you wish to return to?</text><text x="205" y="1866" textLength="292.5">2. What symptoms do you want to minimize first?</text><text x="205" y="1884" textLength="394.5">3. How confident are you and your ability to perform the program?</text><text x="205" y="1902" textLength="314">4. Do you think these exercises will help you recover?</text></g>
<g id="teach"><rect x="923" y="2042" width="380" height="27" fill="url(#gS)" class="pb"/><text x="930" y="2060" textLength="365">Teaching &amp; Problem Solving During Intervention &amp; Follow-up</text><use href="#t" x="914" y="2055"/></g>
<g id="teach-e"><text x="852" y="1973" textLength="37.6">Entails</text><use href="#t" x="836" y="1968"/><text x="90" y="1936" textLength="721.5">– Teach performance skills, providing knowledge of how to implement &amp; monitors of treatment, design reminder strategies</text><text x="90" y="1955" textLength="173">– evaluate for treatment effect</text><text x="90" y="1973" textLength="140">– evaluate for adherence</text><text x="90" y="1990" textLength="300">– problem solved to eliminate barriers to adherence</text><text x="90" y="2008" textLength="285">– modify success indicators as patient progresses</text></g>
<g id="teach-r"><text x="512" y="2042" textLength="366.5">– Inclusion of reminder strategies can also increase adherence:</text><text x="512" y="2060" textLength="149.7">– use of daily exercise log</text><text x="512" y="2078" textLength="244.5">– setting a specific time of day to exercise</text><text x="512" y="2096" textLength="377.6">– engaging a family member or friend to be an "exercise buddy"</text></g>
<g id="teach-f"><text x="764.5" y="2157" textLength="125">Follow-up Questions:</text><use href="#t" x="749.3" y="2152"/><text x="310" y="2129.5" textLength="197">1. Can you show me the exercise?</text><text x="310" y="2148" textLength="368.4">2. What changes have you noticed since starting the program?</text><text x="310" y="2166" textLength="414.6">3. Have there been any negative consequences of doing the exercises?</text><text x="310" y="2184" textLength="314">4. Have you had problems remembering to do them?</text></g>
<g id="remove"><text x="1094" y="2417" textLength="201">Removing Barriers To Intervention</text><use href="#t" x="1079" y="2412"/>
<rect x="674" y="2203" width="383" height="418.7" fill="url(#gT)"/><rect x="674" y="2206" width="383" height="20" fill="#d2d2d0"/><path d="M674 2255H1057" stroke="#666" stroke-width="1"/>
<text class="sb" style="font-size:12px" x="675.5" y="2222" textLength="76">TABLE 13-4</text><text x="762.8" y="2218.5" textLength="265.8" style="fill:#55585a;font-size:13.5px">Suggestions for Improving Patient Adherence</text>
<text class="sb" style="font-size:12.5px" x="826" y="2239" textLength="60">Patient's</text><text class="sb" style="font-size:12.5px" x="826" y="2250" textLength="65">Response</text><text class="sb" style="font-size:12.5px" x="675.5" y="2252" textLength="55">Problem</text><text class="sb" style="font-size:12.5px" x="911.7" y="2249" textLength="78">Suggestion</text>
<text class="sr3" x="676" y="2270">Can the patient tell you</text><text class="sr3" x="685.7" y="2280.3">why he or she is not</text><text class="sr3" x="686" y="2291">doing the exercise?</text><text class="sr3" x="677.6" y="2304.7">Does the patient believe</text><text class="sr3" x="687" y="2315">that adherence to the</text><text class="sr3" x="687.8" y="2325.3">regimen will help the</text><text class="sr3" x="687.8" y="2335.7">problem?</text><text class="sr3" x="679.6" y="2349.3">Does the patient</text><text class="sr3" x="689.3" y="2359.7">understand the</text><text class="sr3" x="689.8" y="2369.7">exercise program?</text><text class="sr3" x="681.6" y="2383">Does the patient have</text><text class="sr3" x="691.3" y="2393">the skills to do the</text><text class="sr3" x="691.8" y="2403">exercises?</text><text class="sr3" x="685.2" y="2455.3">Does adherence to the</text><text class="sr3" x="694.4" y="2465">exercise program have</text><text class="sr3" x="695" y="2474.7">negative consequences</text><text class="sr3" x="695.4" y="2484">for the patient?</text><text class="sr3" x="686.7" y="2496.7">Does nonadherence</text><text class="sr3" x="696.4" y="2506.3">have positive</text><text class="sr3" x="697" y="2516">consequences for the</text><text class="sr3" x="697.4" y="2525">patient?</text><text class="sr3" x="688.8" y="2538.3">Does the patient forget</text><text class="sr3" x="698" y="2548">to do the exercises?</text><text class="sr3" x="689.8" y="2560">Does the patient believe</text><text class="sr3" x="699" y="2570">that he or she cannot</text><text class="sr3" x="699.5" y="2579">do the exercises?</text><text class="sr3" x="691.3" y="2590.7">What if the patient does</text><text class="sr3" x="700.5" y="2601">not want to adhere to</text><text class="sr3" x="701" y="2609.3">the regimen?</text>
<text class="sr3" x="826.5" y="2268.7">Yes</text><text class="sr3" x="827" y="2304">No</text><text class="sr3" x="828" y="2349">No</text><text class="sr3" x="829" y="2383">No</text><text class="sr3" x="829.6" y="2455.7">Yes</text><text class="sr3" x="830" y="2497.7">Yes</text><text class="sr3" x="830.6" y="2539.7">Yes</text><text class="sr3" x="831" y="2562.3">Yes</text><text class="sr3" x="830.6" y="2594.3">—</text>
<text class="sr3" x="911.7" y="2266.7">Listen and problem solve.</text><text class="sr3" x="911.7" y="2302.7">Explore the patient's</text><text class="sr3" x="920.9" y="2313.3">belief system.</text><text class="sr3" x="911.7" y="2324">Expand on the patient's</text><text class="sr3" x="920.9" y="2334.3">current belief system.</text><text class="sr3" x="911.7" y="2348.7">Teach the patient why</text><text class="sr3" x="920.9" y="2359">exercises are important.</text><text class="sr3" x="911.7" y="2382.7">Teach the patient the</text><text class="sr3" x="920.4" y="2393">skills.</text><text class="sr3" x="911.7" y="2403">Break the regimen into</text><text class="sr3" x="920.4" y="2413">smaller parts.</text><text class="sr3" x="911.7" y="2423">Give the patient feedback</text><text class="sr3" x="920.4" y="2433.3">on his or her</text><text class="sr3" x="920.4" y="2443">performance.</text><text class="sr3" x="911.2" y="2456.3">Adapt the regimen to the</text><text class="sr3" x="920.4" y="2466.3">patient's complications.</text><text class="sr3" x="911.7" y="2476">Reinterpret the patient's</text><text class="sr3" x="920.4" y="2486">symptoms (if necessary).</text><text class="sr3" x="911.7" y="2499">Problem-solve with the</text><text class="sr3" x="920.4" y="2509">patient.</text><text class="sr3" x="911.7" y="2519">Provide a support</text><text class="sr3" x="920.4" y="2528.7">structure for the patient.</text><text class="sr3" x="911.7" y="2541.7">Design memory</text><text class="sr3" x="920.4" y="2551.7">strategies.</text><text class="sr3" x="911.7" y="2564.3">Increase the patient's self-</text><text class="sr3" x="920.4" y="2574.3">efficacy.</text><text class="sr3" x="911.7" y="2597.3">That is okay. You have</text><text class="sr3" x="920.4" y="2607">tried your best.</text></g>
</g>
</svg>
